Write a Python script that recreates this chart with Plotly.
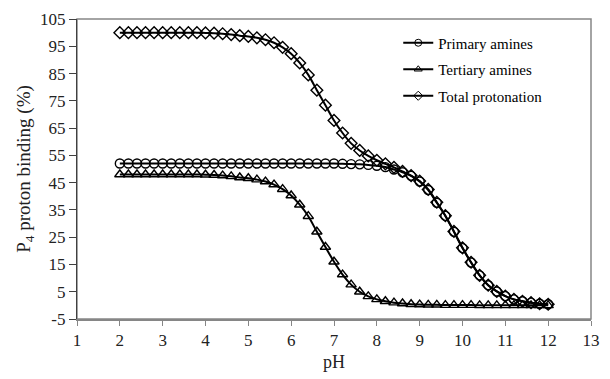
import plotly.graph_objects as go

ph = [2.0, 2.2, 2.4, 2.6, 2.8, 3.0, 3.2, 3.4, 3.6, 3.8,
      4.0, 4.2, 4.4, 4.6, 4.8, 5.0, 5.2, 5.4, 5.6, 5.8,
      6.0, 6.2, 6.4, 6.6, 6.8, 7.0, 7.2, 7.4, 7.6, 7.8,
      8.0, 8.2, 8.4, 8.6, 8.8, 9.0, 9.2, 9.4, 9.6, 9.8,
      10.0, 10.2, 10.4, 10.6, 10.8, 11.0, 11.2, 11.4, 11.6, 11.8, 12.0]

primary = [52.0, 52.0, 52.0, 52.0, 52.0, 52.0, 52.0, 52.0, 52.0, 52.0,
           52.0, 52.0, 52.0, 52.0, 52.0, 52.0, 52.0, 52.0, 52.0, 52.0,
           52.0, 52.0, 52.0, 52.0, 52.0, 52.0, 51.9, 51.8, 51.7, 51.5,
           51.2, 50.7, 49.8, 48.8, 47.5, 45.4, 42.3, 37.6, 32.8, 27.0,
           21.0, 15.7, 11.0, 7.4, 5.1, 3.4, 2.2, 1.5, 1.0, 0.6, 0.4]

tertiary = [48.0, 48.0, 48.0, 48.0, 48.0, 48.0, 48.0, 48.0, 48.0, 48.0,
            47.9, 47.8, 47.6, 47.3, 46.9, 46.6, 46.1, 45.4, 44.3, 42.6,
            40.3, 36.9, 32.7, 27.0, 21.4, 16.0, 11.3, 7.6, 5.0, 3.3,
            2.2, 1.5, 1.0, 0.7, 0.4, 0.3, 0.2, 0.2, 0.1, 0.1,
            0.1, 0.1, 0.0, 0.0, 0.0, 0.0, 0.0, 0.0, 0.0, 0.0, 0.0]

total = [100.0, 100.0, 100.0, 100.0, 100.0, 100.0, 100.0, 100.0, 100.0, 100.0,
         99.9, 99.8, 99.6, 99.3, 98.9, 98.6, 98.1, 97.4, 96.3, 94.6,
         92.3, 88.9, 84.5, 78.9, 73.4, 67.8, 63.2, 59.4, 56.8, 54.8,
         53.2, 51.9, 50.6, 49.1, 47.6, 45.6, 42.5, 37.8, 32.9, 27.1,
         21.1, 15.8, 11.0, 7.4, 5.1, 3.4, 2.2, 1.5, 1.0, 0.6, 0.4]

series = [
    ("Primary amines", primary, "circle-open"),
    ("Tertiary amines", tertiary, "triangle-up-open"),
    ("Total protonation", total, "diamond-open"),
]

x_ticks = list(range(1, 14))
y_ticks = list(range(-5, 106, 10))

fig = go.Figure()
for i, (name, vals, sym) in enumerate(series):
    fig.add_trace(go.Scatter(
        x=ph, y=vals, name=name, mode="lines+markers",
        showlegend=False,
        line=dict(color="black", width=2, shape="spline"),
        marker=dict(symbol=sym, size=9, color="black",
                    line=dict(color="black", width=1.4)),
    ))
# legend-only entries (no data) with smaller sample markers
for i, (name, vals, sym) in enumerate(series):
    fig.add_trace(go.Scatter(
        x=[None], y=[None], name=name, mode="lines+markers",
        legendgroup=f"g{i}", showlegend=True,
        line=dict(color="black", width=2),
        marker=dict(symbol=sym, size=7, color="black",
                    line=dict(color="black", width=1)),
    ))

font_family = "Liberation Serif"

fig.update_layout(
    width=610, height=379,
    margin=dict(l=77, r=10, t=17, b=56),
    paper_bgcolor="white", plot_bgcolor="white",
    font=dict(family=font_family, color="black", size=16),
    showlegend=True,
    legend=dict(
        x=0.625, y=0.975, xanchor="left", yanchor="top",
        font=dict(family=font_family, size=15, color="black"),
        bgcolor="rgba(0,0,0,0)", tracegroupgap=4,
        itemwidth=30,
    ),
    xaxis=dict(
        range=[1, 13], tickvals=x_ticks, ticktext=[str(v) for v in x_ticks],
        showgrid=False, zeroline=False,
        showline=True, linecolor="#868686", linewidth=1.5,
        ticks="outside", ticklen=5, tickcolor="#868686", tickwidth=1,
        tickfont=dict(size=17, family=font_family, color="#222222"),
        title=dict(text="pH", font=dict(size=18, family=font_family, color="#222222"), standoff=6),
    ),
    yaxis=dict(
        range=[-5, 105], tickvals=y_ticks, ticktext=[str(v) for v in y_ticks],
        showgrid=False, zeroline=False,
        showline=True, linecolor="#404040", linewidth=1.2,
        ticks="outside", ticklen=7, tickcolor="#404040", tickwidth=1,
        tickfont=dict(size=17, family=font_family, color="#222222"),
        title=dict(text="P<sub>4</sub> proton binding (%)",
                   font=dict(size=19, family=font_family, color="#222222"), standoff=4),
    ),
    shapes=[dict(type="rect", xref="paper", yref="paper", x0=0, x1=1, y0=0, y1=1,
                 line=dict(color="#868686", width=1.5), layer="below")],
)

fig.write_html("out.html")
